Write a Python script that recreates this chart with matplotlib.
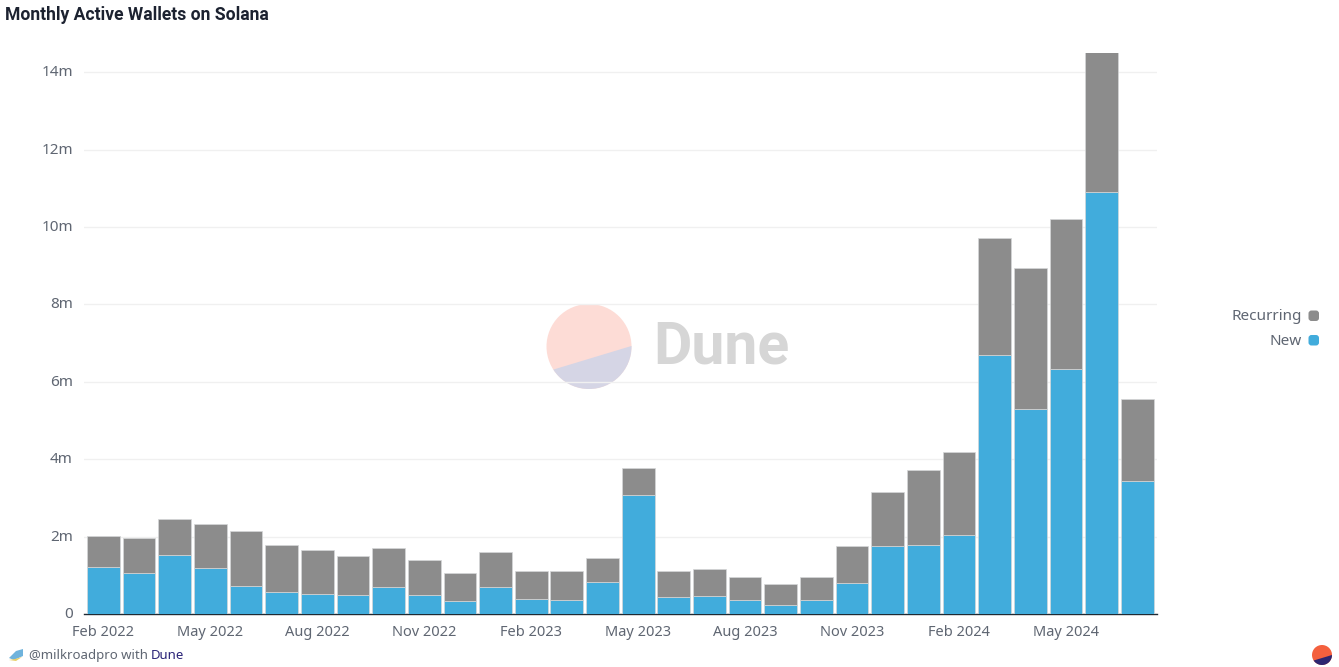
"""
Monthly Active Wallets on Solana, stacked monthly bars in the Dune style
"""
import matplotlib
matplotlib.use("Agg")
import numpy as np
import matplotlib.pyplot as plt
import matplotlib.transforms as mtransforms
from matplotlib.patches import Circle, Polygon, FancyBboxPatch

plt.rcParams["font.family"] = ["Noto Sans", "DejaVu Sans"]

W, H = 1339, 667

# months from Feb 2022 to Jul 2024, values in millions
months = ["Feb 2022", "Mar 2022", "Apr 2022", "May 2022", "Jun 2022", "Jul 2022",
          "Aug 2022", "Sep 2022", "Oct 2022", "Nov 2022", "Dec 2022", "Jan 2023",
          "Feb 2023", "Mar 2023", "Apr 2023", "May 2023", "Jun 2023", "Jul 2023",
          "Aug 2023", "Sep 2023", "Oct 2023", "Nov 2023", "Dec 2023", "Jan 2024",
          "Feb 2024", "Mar 2024", "Apr 2024", "May 2024", "Jun 2024", "Jul 2024"]
new = [1.21, 1.05, 1.52, 1.19, 0.72, 0.58, 0.52, 0.48, 0.70, 0.50,
       0.33, 0.70, 0.38, 0.35, 0.82, 3.07, 0.44, 0.46, 0.35, 0.24,
       0.35, 0.80, 1.75, 1.78, 2.04, 6.70, 5.30, 6.32, 10.90, 3.44]
recurring = [0.80, 0.91, 0.94, 1.13, 1.42, 1.20, 1.14, 1.02, 1.00, 0.89,
             0.73, 0.90, 0.74, 0.75, 0.64, 0.71, 0.68, 0.71, 0.61, 0.53,
             0.60, 0.96, 1.40, 1.94, 2.15, 3.02, 3.64, 3.88, 3.80, 2.12]
yticks = [0, 2, 4, 6, 8, 10, 12, 14]
ytick_labels = ["0", "2m", "4m", "6m", "8m", "10m", "12m", "14m"]

BLUE = "#41acdc"
GREY = "#8c8c8c"
EDGE = "#d5d7d8"
TEXT = "#5f6672"

fig = plt.figure(figsize=(W / 100, H / 100), dpi=100, facecolor="white")

# pixel overlay behind the chart for the watermark, logos and footer
bg = fig.add_axes([0, 0, 1, 1], zorder=0)
bg.set_xlim(0, W)
bg.set_ylim(H, 0)
bg.axis("off")

ax = fig.add_axes([84 / W, (H - 614) / H, (1157 - 84) / W, (614 - 53) / H], zorder=1)
ax.patch.set_alpha(0)

x = np.arange(len(months))
ax.bar(x, new, width=0.92, color=BLUE, edgecolor=EDGE, linewidth=0.5, zorder=3)
ax.bar(x, recurring, width=0.92, bottom=new, color=GREY, edgecolor=EDGE, linewidth=0.5, zorder=3)

ax.set_xlim(-0.545, 29.555)
ax.set_ylim(0, 14.5)
ax.set_yticks(yticks)
ax.set_yticklabels(ytick_labels)
ax.set_xticks(x[::3])
ax.set_xticklabels(months[::3])
ax.tick_params(axis="x", length=0, labelsize=10.5, labelcolor=TEXT, pad=8)
ax.tick_params(axis="y", length=0, labelsize=11, labelcolor=TEXT, pad=8)
# the y labels sit slightly above their grid lines
up = mtransforms.ScaledTranslation(0, 1.5 / 100, fig.dpi_scale_trans)
for lab in ax.get_yticklabels():
    lab.set_transform(lab.get_transform() + up)
ax.grid(axis="y", color="#f0f0f0", linewidth=1, zorder=0)
ax.grid(axis="x", visible=False)
ax.set_axisbelow(True)
for s in ["top", "right", "left"]:
    ax.spines[s].set_visible(False)
ax.spines["bottom"].set_color("#1f2a33")
ax.spines["bottom"].set_linewidth(1)

# title, Noto Sans has no bold cut here so Roboto carries it
fig.text(5 / W, 1 - 14.5 / H, "Monthly Active Wallets on Solana", fontsize=12.65, fontweight="bold",
         color="#1c2230", ha="left", va="center", family="Roboto")


def dune_logo(cx, cy, r, top_col, low_col, chord):
    # circle with a lower segment cut off by a chord that misses the centre
    circ = Circle((cx, cy), r, facecolor=top_col, edgecolor="none")
    bg.add_patch(circ)
    (x0, y0), (x1, y1) = chord
    seg = Polygon([[x0, y0], [x1, y1], [cx + r + 2, cy + r + 2], [cx - r - 2, cy + r + 2]],
                  facecolor=low_col, edgecolor="none")
    bg.add_patch(seg)
    seg.set_clip_path(circ)


# Dune watermark
dune_logo(589, 346.5, 42.5, "#fddcd6", "#d5d5e5", ((547, 371.5), (633, 345.5)))
bg.text(653, 347.5, "Dune", fontsize=42.5, fontweight="bold", color="#d6d6d6", ha="left", va="center",
        family="Roboto")

# legend, drawn by hand at the right side
for label, col, ypos in [("Recurring", GREY, 315.5), ("New", BLUE, 340)]:
    bg.text(1302, ypos + 1.5, label, fontsize=11, color=TEXT, ha="right", va="center")
    bg.add_patch(FancyBboxPatch((1310, ypos - 3.5), 7.5, 7.5, boxstyle="round,pad=1.5,rounding_size=3",
                                facecolor=col, edgecolor="none"))

# footer
bg.add_patch(Polygon([[9, 658], [16, 651], [23, 649], [23, 656], [14, 660]], facecolor="#6fb3dc", edgecolor="none"))
bg.add_patch(Polygon([[9, 660], [15, 659], [22, 657], [16, 661]], facecolor="#e8cf6a", edgecolor="none"))
t = bg.text(29, 655.5, "@milkroadpro with", fontsize=9.5, color=TEXT, ha="left", va="center")
fig.canvas.draw()
bb = t.get_window_extent()
bg.text(bb.x1 + 3, 655.5, "Dune", fontsize=9.5, color="#2b2478", ha="left", va="center")

# small Dune logo bottom right
dune_logo(1322, 655, 10, "#f4603e", "#2d2671", ((1312, 661), (1332, 655)))

fig.savefig("out.png", dpi=100)
